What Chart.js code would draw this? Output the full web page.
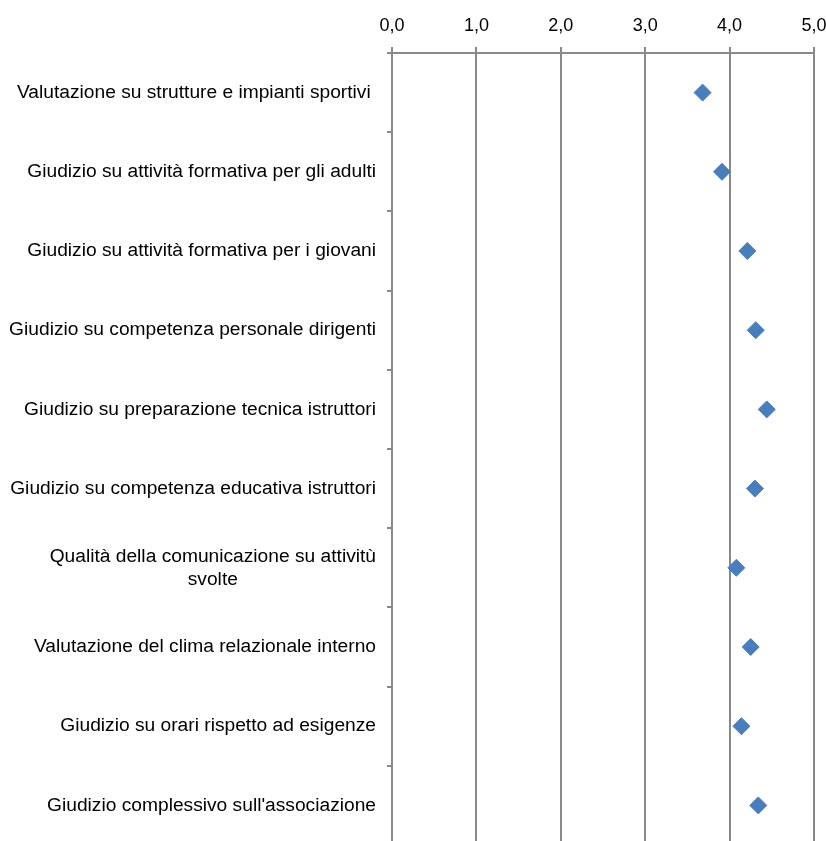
<!DOCTYPE html>
<html>
<head>
<meta charset="utf-8">
<script src="https://cdn.jsdelivr.net/npm/chart.js@4.4.1/dist/chart.umd.min.js"></script>
<style>
  html, body { margin: 0; padding: 0; background: #ffffff; overflow: hidden; }
  canvas { display: block; }
</style>
</head>
<body>
<canvas id="myChart" width="826" height="845"></canvas>
<script>
// Questions, top to bottom (multi-line labels are arrays)
const categories = [
  'Valutazione su strutture e impianti sportivi ',
  'Giudizio su attività formativa per gli adulti',
  'Giudizio su attività formativa per i giovani',
  'Giudizio su competenza personale dirigenti',
  'Giudizio su preparazione tecnica istruttori',
  'Giudizio su competenza educativa istruttori',
  ['Qualità della comunicazione su attivitù', 'svolte'],
  'Valutazione del clima relazionale interno',
  'Giudizio su orari rispetto ad esigenze',
  'Giudizio complessivo sull\'associazione'
];

// Average score per question
const scores = [3.68, 3.91, 4.21, 4.31, 4.44, 4.30, 4.08, 4.25, 4.14, 4.34];

// Top axis ticks
const xTicks = [0, 1, 2, 3, 4, 5];

const gridColor = '#898989';
const labelFont = '19.2px "Liberation Sans", Arial, sans-serif';
const labelRight = 376;
const lineHeight = 23;

// Category names are drawn here so single lines sit right-aligned
// while wrapped names are centred line by line
const categoryLabels = {
  id: 'categoryLabels',
  afterDraw(chart) {
    const ctx = chart.ctx;
    const yScale = chart.scales.y;
    ctx.save();
    ctx.font = labelFont;
    ctx.fillStyle = '#000000';
    ctx.textBaseline = 'middle';
    ctx.textAlign = 'center';
    categories.forEach((label, i) => {
      const lines = Array.isArray(label) ? label : [label];
      const y = yScale.getPixelForValue(i);
      const widest = Math.max(...lines.map(l => ctx.measureText(l).width));
      const cx = labelRight - widest / 2;
      lines.forEach((line, j) => {
        ctx.fillText(line, cx, y + (j - (lines.length - 1) / 2) * lineHeight);
      });
    });
    ctx.restore();
  }
};

// no extra room around the axes, the layout padding decides it
const noPadding = scale => {
  scale.paddingLeft = 0;
  scale.paddingRight = 0;
  scale.paddingTop = 0;
  scale.paddingBottom = 0;
};

const ctx = document.getElementById('myChart').getContext('2d');
new Chart(ctx, {
  type: 'line',
  data: {
    labels: categories,
    datasets: [{
      label: 'Media',
      data: scores,
      showLine: false,
      pointStyle: 'rectRot',
      pointRadius: 8.5,
      pointBorderWidth: 1,
      backgroundColor: '#4A7EBB',
      borderColor: '#4A7EBB'
    }]
  },
  options: {
    indexAxis: 'y',
    responsive: false,
    animation: false,
    layout: { autoPadding: false, padding: { left: 0, right: 12, top: 0, bottom: 0 } },
    scales: {
      x: {
        type: 'linear',
        position: 'top',
        min: 0,
        max: 5,
        afterBuildTicks: scale => { scale.ticks = xTicks.map(v => ({ value: v })); },
        afterFit: scale => { scale.height = 53; noPadding(scale); },
        grid: { color: gridColor, lineWidth: 2, tickLength: 6 },
        border: { color: gridColor, width: 2 },
        ticks: {
          padding: 10,
          color: '#000000',
          font: { family: '"Liberation Sans", Arial, sans-serif', size: 18 },
          callback: v => v.toFixed(1).replace('.', ',')
        }
      },
      y: {
        type: 'category',
        offset: true,
        afterFit: scale => { scale.width = 392; noPadding(scale); },
        grid: {
          offset: true,
          drawOnChartArea: false,
          drawTicks: true,
          tickLength: 5,
          color: gridColor,
          lineWidth: 2
        },
        border: { color: gridColor, width: 2 },
        ticks: { display: false }
      }
    },
    plugins: {
      legend: { display: false },
      title: { display: false },
      tooltip: { enabled: false }
    }
  },
  plugins: [categoryLabels]
});
</script>
</body>
</html>
